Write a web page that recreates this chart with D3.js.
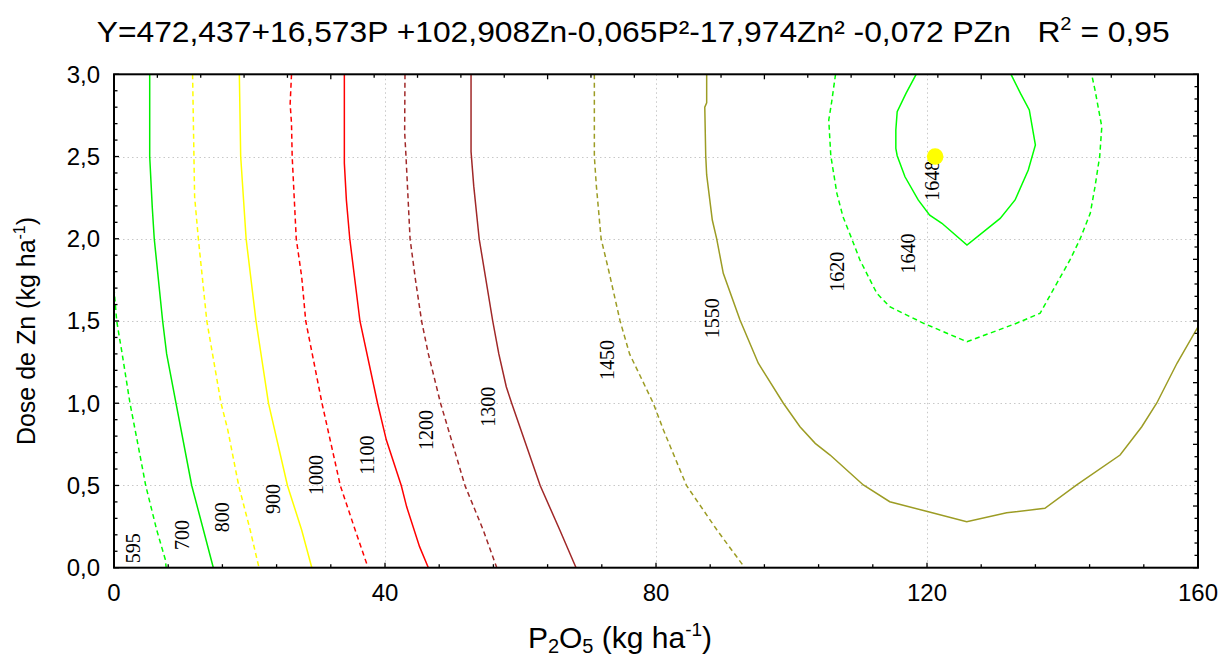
<!DOCTYPE html>
<html>
<head>
<meta charset="utf-8">
<script src="https://cdn.jsdelivr.net/npm/d3@7"></script>
<style>
  html, body { margin: 0; padding: 0; background: #fff; }
  svg { display: block; }
  text { white-space: pre; }
</style>
</head>
<body>
<svg id="chart" width="1221" height="661"></svg>
<script>
// ---------------- DATA ----------------
const titleMain = "Y=472,437+16,573P +102,908Zn-0,065P²-17,974Zn² -0,072 PZn   R";
const titleR2 = " = 0,95";
const xTickValues = [0, 40, 80, 120, 160];
const xTickLabels = ["0", "40", "80", "120", "160"];
const yTickValues = [0, 0.5, 1, 1.5, 2, 2.5, 3];
const yTickLabels = ["0,0", "0,5", "1,0", "1,5", "2,0", "2,5", "3,0"];

// contour levels (yield) and their traced paths [P2O5, Zn]
const levels = [595, 700, 800, 900, 1000, 1100, 1200, 1300, 1450, 1550, 1620, 1640];
const c595 = [[0,1.70],[0.4,1.50],[0.8,1.40],[1.13,1.32],[2.36,1.0],[3.6,0.735],[4.68,0.50],[6.3,0.23],[7.57,0.05],[7.7,0]];
const c700 = [[5.27,3.0],[5.27,2.5],[5.65,2.19],[5.94,2.0],[7.18,1.5],[7.77,1.30],[9.15,1.0],[11.47,0.5],[13.2,0.229],[14.66,0]];
const c800 = [[11.6,3.0],[11.8,2.5],[11.9,2.255],[12.45,2.0],[13.7,1.5],[15.8,1.0],[16.8,0.837],[18.4,0.5],[20.1,0.229],[21.4,0]];
const c900 = [[18.5,3.0],[18.7,2.5],[19.5,2.0],[20.96,1.5],[22.8,1.0],[25.6,0.5],[27.7,0.229],[29.2,0]];
const c1000 = [[26.2,3.0],[26.0,2.82],[26.2,2.70],[26.3,2.5],[26.9,2.0],[27.7,1.77],[28.3,1.5],[30.7,1.0],[33.4,0.5],[35.6,0.229],[37.5,0]];
const c1100 = [[34.0,3.0],[34.0,2.46],[34.3,2.235],[34.8,2.0],[36.3,1.5],[38.9,1.0],[40.2,0.776],[42.4,0.5],[43.2,0.37],[45.1,0.128],[46.4,0]];
const c1200 = [[42.95,3.0],[42.9,2.65],[43.1,2.5],[43.7,2.0],[44.5,1.75],[45.4,1.5],[46.4,1.30],[48.2,1.0],[51.8,0.5],[54.5,0.229],[56.5,0]];
const c1300 = [[52.7,3.0],[52.7,2.53],[53.1,2.32],[53.9,2.0],[55.9,1.5],[56.8,1.30],[57.9,1.10],[58.7,1.0],[62.9,0.5],[65.8,0.229],[68.2,0]];
const c1450 = [[70.9,3.0],[70.9,2.5],[71.2,2.32],[71.9,2.0],[73.0,1.81],[74.7,1.5],[76.1,1.30],[79.6,1.0],[81.1,0.837],[84.5,0.5],[89.0,0.229],[93.1,0]];
const c1550 = [[87.48,3.0],[87.48,2.827],[87.2,2.80],[87.34,2.505],[87.48,2.388],[88.31,2.114],[88.96,1.999],[89.93,1.79],[92.4,1.506],[95.1,1.243],[98.8,1.0],[101.25,0.857],[103.5,0.756],[105.7,0.685],[110.6,0.503],[114.5,0.401],[120.2,0.340],[125.86,0.280],[131.76,0.334],[137.4,0.361],[142.1,0.503],[148.5,0.685],[151.7,0.857],[153.9,1.0],[156.9,1.243],[160,1.465]];
const c1620 = [[106.5,3.0],[105.9,2.824],[105.5,2.722],[105.8,2.505],[106.7,2.276],[107.6,2.134],[108.9,1.999],[110.1,1.871],[112.6,1.668],[114.5,1.587],[119.5,1.486],[125.9,1.374],[133.2,1.486],[136.7,1.547],[138.6,1.688],[141.1,1.871],[142.6,1.999],[144.1,2.155],[144.8,2.317],[145.5,2.505],[145.8,2.681],[144.8,2.904],[144.3,3.0]];
const c1640 = [[118.4,3.0],[116.9,2.884],[115.6,2.773],[115.4,2.661],[115.4,2.55],[115.6,2.505],[116.75,2.377],[118.7,2.236],[120.4,2.144],[122.2,2.094],[125.9,1.962],[130.8,2.124],[133.0,2.236],[134.95,2.418],[136.0,2.57],[135.1,2.783],[133.8,2.884],[132.4,3.0]];
const contourPaths = [c595, c700, c800, c900, c1000, c1100, c1200, c1300, c1450, c1550, c1620, c1640];

// contour label text and anchor [P2O5, Zn]
const labelTexts = ["595", "700", "800", "900", "1000", "1100", "1200", "1300", "1450", "1550", "1620", "1640", "1648"];
const labelAnchors = [[2.85,0.118],[9.98,0.199],[15.9,0.306],[23.5,0.418],[29.8,0.564],[37.4,0.685],[46.0,0.837],[55.2,0.979],[72.8,1.263],[88.2,1.516],[106.7,1.80],[117.2,1.91],[120.7,2.353]];

// maximum point
const optimum = [[121.2, 2.5]];

// ---------------- STYLES ----------------
const lineColors = ["#00ff00","#00ee00","#ffff00","#ffff00","#ff0000","#ff0000","#a02828","#a02828","#9c9c24","#9c9c24","#00ff00","#00ff00"];
const lineDashed = [true,false,true,false,true,false,true,false,true,false,true,false];

// ---------------- CHART ----------------
const svg = d3.select("#chart");
const L = 114, R = 1198, T = 74.3, B = 567.7;
const x = d3.scaleLinear().domain([0,160]).range([L,R]);
const y = d3.scaleLinear().domain([0,3]).range([B,T]);
const sans = "'Liberation Sans', Arial, sans-serif";
const serif = "'Liberation Serif', 'Times New Roman', serif";

svg.append("defs").append("clipPath").attr("id","clip")
  .append("rect").attr("x",L).attr("y",T).attr("width",R-L).attr("height",B-T);

// grid
const grid = svg.append("g").attr("stroke","#c8c8c8").attr("stroke-width",1).attr("stroke-dasharray","1.5,3");
grid.selectAll("line.gx").data(xTickValues.filter(d=>d>0 && d<160)).join("line")
  .attr("x1",d=>Math.round(x(d))+0.5).attr("x2",d=>Math.round(x(d))+0.5).attr("y1",T).attr("y2",B);
grid.selectAll("line.gy").data(yTickValues.filter(d=>d>0 && d<3)).join("line")
  .attr("y1",d=>Math.round(y(d))+0.5).attr("y2",d=>Math.round(y(d))+0.5).attr("x1",L).attr("x2",R);

// contours
const line = d3.line().x(d=>x(d[0])).y(d=>y(d[1]));
const cg = svg.append("g").attr("clip-path","url(#clip)");
cg.selectAll("path").data(contourPaths).join("path")
  .attr("d", line)
  .attr("fill","none")
  .attr("stroke",(d,i)=>lineColors[i])
  .attr("stroke-width",1.5)
  .attr("stroke-dasharray",(d,i)=>lineDashed[i] ? "5,3.5" : null);

// labels
svg.append("g").selectAll("text").data(labelTexts).join("text")
  .attr("transform",(d,i)=>`translate(${x(labelAnchors[i][0])},${y(labelAnchors[i][1])}) rotate(-90)`)
  .attr("text-anchor","middle")
  .attr("dominant-baseline","central")
  .attr("font-family",serif)
  .attr("font-size",20)
  .attr("fill","#000")
  .text(d=>d);

// optimum point
svg.append("g").selectAll("circle").data(optimum).join("circle")
  .attr("cx",d=>x(d[0])).attr("cy",d=>y(d[1])).attr("r",8.3).attr("fill","#ffff00");

// axes ticks (inward)
const ax = svg.append("g").attr("stroke","#000").attr("stroke-width",1.3);
d3.range(0,161,8).forEach(v=>{
  const len = (v % 40 === 0) ? 5 : 3.5;
  ax.append("line").attr("x1",x(v)).attr("x2",x(v)).attr("y1",B).attr("y2",B-len);
});
d3.range(0,31,1).forEach(k=>{
  const v = k/10, len = (k % 5 === 0) ? 5 : 3.5;
  ax.append("line").attr("x1",L).attr("x2",L+len).attr("y1",y(v)).attr("y2",y(v));
});
const xt = d3.scaleLinear().domain([0,25]).range([L,R]);
d3.range(0,26).forEach(k=>{
  const len = (k % 5 === 0) ? 5 : 3.5;
  ax.append("line").attr("x1",xt(k)).attr("x2",xt(k)).attr("y1",T).attr("y2",T+len);
});
const yr = d3.scaleLinear().domain([0,40]).range([B,T]);
d3.range(0,41).forEach(k=>{
  const len = (k % 5 === 0) ? 5 : 3.5;
  ax.append("line").attr("x1",R).attr("x2",R-len).attr("y1",yr(k)).attr("y2",yr(k));
});
svg.append("rect").attr("x",L).attr("y",T).attr("width",R-L).attr("height",B-T)
  .attr("fill","none").attr("stroke","#000").attr("stroke-width",2);

// tick labels
svg.append("g").selectAll("text").data(xTickValues).join("text")
  .attr("x",d=>x(d)).attr("y",601)
  .attr("text-anchor","middle").attr("font-family",sans).attr("font-size",24).attr("fill","#000")
  .text((d,i)=>xTickLabels[i]);
svg.append("g").selectAll("text").data(yTickValues).join("text")
  .attr("x",100).attr("y",d=>y(d)).attr("dy","0.35em")
  .attr("text-anchor","end").attr("font-family",sans).attr("font-size",24).attr("fill","#000")
  .text((d,i)=>yTickLabels[i]);

// title
const title = svg.append("text").attr("x",96.7).attr("y",41.7)
  .attr("font-family",sans).attr("font-size",30).attr("fill","#000");
title.append("tspan").text(titleMain);
title.append("tspan").attr("font-size",19).attr("dy",-12).text("2");
title.append("tspan").attr("dy",12).text(titleR2);
const tw = title.node().getComputedTextLength();
if (tw > 0) title.attr("textLength", 1073).attr("lengthAdjust","spacingAndGlyphs");

// x axis title
const xtitle = svg.append("text").attr("x",(521.7+718.3)/2).attr("y",648)
  .attr("text-anchor","middle").attr("font-family",sans).attr("font-size",30).attr("fill","#000");
xtitle.append("tspan").text("P");
xtitle.append("tspan").attr("font-size",20).attr("dy",5).text("2");
xtitle.append("tspan").attr("dy",-5).text("O");
xtitle.append("tspan").attr("font-size",20).attr("dy",5).text("5");
xtitle.append("tspan").attr("dy",-5).text(" (kg ha");
xtitle.append("tspan").attr("font-size",19).attr("dy",-12).text("-1");
xtitle.append("tspan").attr("dy",12).text(")");

// y axis title
const ytitle = svg.append("text")
  .attr("transform",`translate(35,${(T+B)/2 + 10}) rotate(-90)`)
  .attr("text-anchor","middle").attr("font-family",sans).attr("font-size",25).attr("fill","#000");
ytitle.append("tspan").text("Dose de Zn (kg ha");
ytitle.append("tspan").attr("font-size",16).attr("dy",-10).text("-1");
ytitle.append("tspan").attr("dy",10).text(")");
</script>
</body>
</html>
